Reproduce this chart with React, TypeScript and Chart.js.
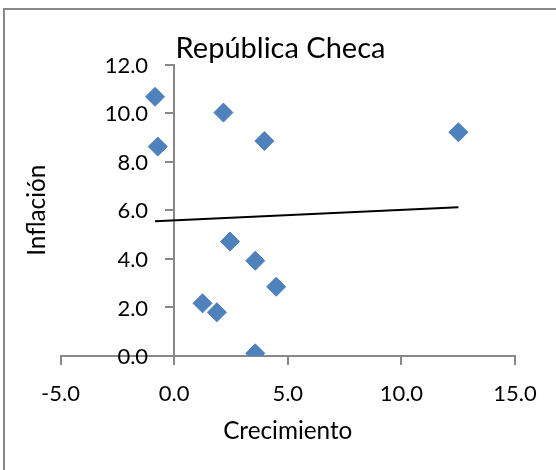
import React, { useEffect, useRef } from "react";
import { Chart, registerables } from "chart.js";

Chart.register(...registerables);

// Growth (x) and inflation (y), one point per year
const growth = [-0.84, -0.72, 2.17, 3.97, 12.51, 2.46, 3.57, 4.49, 1.25, 1.88, 3.57];
const inflation = [10.67, 8.62, 10.02, 8.85, 9.21, 4.71, 3.92, 2.85, 2.17, 1.8, 0.11];

// Axis tick values
const xTicks = [-5, 0, 5, 10, 15];
const yTicks = [0, 2, 4, 6, 8, 10, 12];

const chartTitle = "República Checa";
const xTitle = "Crecimiento";
const yTitle = "Inflación";

const FONT = "Lato, 'Open Sans', sans-serif";
const AXIS_GRAY = "#888888";
const TICK_FONT_SIZE = 22;
const TICK_LENGTH = 8;
const Y_LABEL_GAP = 18;

const fmt = (v: number) => Number(v).toFixed(1);

// Ordinary least-squares line through the points, spanning the data's x range
function linearTrend(xs: number[], ys: number[]) {
  const n = xs.length;
  const mx = xs.reduce((a, b) => a + b, 0) / n;
  const my = ys.reduce((a, b) => a + b, 0) / n;
  let sxy = 0;
  let sxx = 0;
  for (let i = 0; i < n; i++) {
    sxy += (xs[i] - mx) * (ys[i] - my);
    sxx += (xs[i] - mx) * (xs[i] - mx);
  }
  const slope = sxy / sxx;
  const intercept = my - slope * mx;
  const x0 = Math.min(...xs);
  const x1 = Math.max(...xs);
  return [
    { x: x0, y: intercept + slope * x0 },
    { x: x1, y: intercept + slope * x1 },
  ];
}

// Frame around the chart, the y tick labels (kept clear of the crossing axis),
// the title and the axis titles
const decorations = {
  id: "decorations",
  beforeDraw(chart: Chart) {
    const { ctx } = chart;
    ctx.save();
    ctx.strokeStyle = AXIS_GRAY;
    ctx.lineWidth = 2;
    ctx.strokeRect(4, 9, 700, 700);
    ctx.restore();
  },
  afterDraw(chart: Chart) {
    const { ctx, chartArea, scales } = chart;
    const xScale = scales.x;
    const yScale = scales.y;
    ctx.save();
    ctx.fillStyle = "#000000";

    // y tick labels, right-aligned left of the y axis (which sits at x = 0)
    const axisX = xScale.getPixelForValue(0);
    ctx.font = `${TICK_FONT_SIZE}px ${FONT}`;
    ctx.textAlign = "right";
    ctx.textBaseline = "middle";
    for (const t of yScale.ticks) {
      ctx.fillText(fmt(t.value), axisX - TICK_LENGTH - Y_LABEL_GAP, yScale.getPixelForValue(t.value) + 1);
    }

    ctx.textAlign = "center";
    ctx.textBaseline = "alphabetic";

    ctx.font = `29px ${FONT}`;
    ctx.fillText(chartTitle, 280.5, 58);

    ctx.font = `24.3px ${FONT}`;
    ctx.fillText(xTitle, (chartArea.left + chartArea.right) / 2, 439);

    ctx.translate(45, (chartArea.top + chartArea.bottom) / 2);
    ctx.rotate(-Math.PI / 2);
    ctx.fillText(yTitle, 0, 0);
    ctx.restore();
  },
};

export default function App() {
  const canvasRef = useRef<HTMLCanvasElement | null>(null);

  useEffect(() => {
    const canvas = canvasRef.current;
    if (!canvas) return;

    const points = growth.map((x, i) => ({ x, y: inflation[i] }));
    const trend = linearTrend(growth, inflation);

    const chart = new Chart(canvas, {
      type: "scatter",
      data: {
        datasets: [
          {
            label: "Inflación",
            data: points,
            pointStyle: "rectRot",
            pointRadius: 9.5,
            pointHoverRadius: 9.5,
            backgroundColor: "#4F81BD",
            borderColor: "#4A7EBB",
            borderWidth: 1,
          },
          {
            label: "Tendencia",
            data: trend,
            showLine: true,
            pointRadius: 0,
            borderColor: "#000000",
            borderWidth: 2,
            fill: false,
          },
        ],
      },
      options: {
        responsive: false,
        animation: false,
        devicePixelRatio: 1,
        layout: {
          padding: { left: 60.5, right: 41, top: 64.5, bottom: 114 },
        },
        plugins: {
          legend: { display: false },
          tooltip: { enabled: false },
          title: { display: false },
        },
        scales: {
          x: {
            type: "linear",
            position: { y: 0 },
            min: xTicks[0],
            max: xTicks[xTicks.length - 1],
            ticks: {
              stepSize: xTicks[1] - xTicks[0],
              padding: 17,
              color: "#000000",
              font: { family: FONT, size: TICK_FONT_SIZE },
              callback: (v) => fmt(Number(v)),
            },
            grid: {
              display: true,
              drawOnChartArea: false,
              drawTicks: true,
              tickLength: TICK_LENGTH,
              color: AXIS_GRAY,
              lineWidth: 2,
            },
            border: { display: true, color: AXIS_GRAY, width: 2 },
          },
          y: {
            type: "linear",
            position: { x: 0 },
            min: yTicks[0],
            max: yTicks[yTicks.length - 1],
            ticks: {
              stepSize: yTicks[1] - yTicks[0],
              display: false,
            },
            grid: {
              display: true,
              drawOnChartArea: false,
              drawTicks: true,
              tickLength: TICK_LENGTH,
              color: AXIS_GRAY,
              lineWidth: 2,
            },
            border: { display: true, color: AXIS_GRAY, width: 2 },
          },
        },
      },
      plugins: [decorations],
    });

    return () => chart.destroy();
  }, []);

  return (
    <div style={{ position: "absolute", left: 0, top: 0, width: 556, height: 470, background: "#ffffff" }}>
      <canvas ref={canvasRef} width={556} height={470} style={{ display: "block" }} />
    </div>
  );
}
